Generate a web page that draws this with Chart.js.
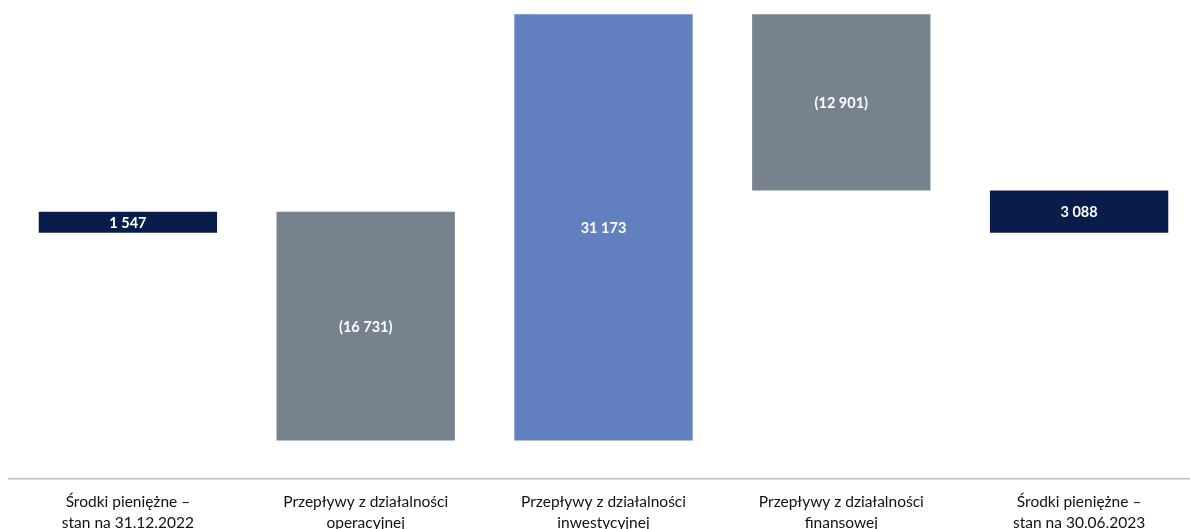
<!DOCTYPE html>
<html>
<head>
<meta charset="utf-8">
<script src="https://cdn.jsdelivr.net/npm/chart.js@4.4.0/dist/chart.umd.min.js"></script>
<style>
html,body{margin:0;padding:0;background:#fff;overflow:hidden;width:1190px;height:529px;}
canvas{display:block;}
</style>
</head>
<body>
<canvas id="c" width="1200" height="529"></canvas>
<script>
const categories = [
  ['Środki pieniężne –', 'stan na 31.12.2022'],
  ['Przepływy z działalności', 'operacyjnej'],
  ['Przepływy z działalności', 'inwestycyjnej'],
  ['Przepływy z działalności', 'finansowej'],
  ['Środki pieniężne –', 'stan na 30.06.2023']
];
const values = [1547, -16731, 31173, -12901, 3088];
const isTotal = [true, false, false, false, true];
const barColors = ['#081d4a', '#76838f', '#6280c0', '#76838f', '#081d4a'];
const axisMin = -18000;
const axisMax = 16000;

// floating ranges built from the values
const ranges = [];
let running = 0;
values.forEach((v, i) => {
  if (isTotal[i]) { ranges.push([0, v]); running = v; }
  else { ranges.push([running, running + v]); running += v; }
});

function fmt(v) {
  const s = Math.abs(v).toString().replace(/\B(?=(\d{3})+(?!\d))/g, ' ');
  return v < 0 ? '(' + s + ')' : s;
}

const labelPlugin = {
  id: 'barLabels',
  afterDatasetsDraw(chart) {
    const ctx = chart.ctx;
    const meta = chart.getDatasetMeta(0);
    ctx.save();
    ctx.fillStyle = '#ffffff';
    ctx.font = 'bold 14.5px Lato';
    ctx.textAlign = 'center';
    ctx.textBaseline = 'middle';
    meta.data.forEach((bar, i) => {
      const p = bar.getProps(['x', 'y', 'base'], true);
      ctx.fillText(fmt(values[i]), p.x, (p.y + p.base) / 2 + 1);
    });
    ctx.restore();
  }
};

new Chart(document.getElementById('c'), {
  type: 'bar',
  data: {
    labels: categories,
    datasets: [{
      data: ranges,
      backgroundColor: barColors,
      borderWidth: 0,
      barPercentage: 0.75,
      categoryPercentage: 1.0
    }]
  },
  options: {
    responsive: false,
    animation: false,
    devicePixelRatio: 1,
    layout: { padding: { left: 9, right: 2, top: 14, bottom: 0 } },
    plugins: { legend: { display: false }, tooltip: { enabled: false } },
    scales: {
      x: {
        grid: { display: false, drawTicks: false },
        border: { display: true, color: '#c0c0c0', width: 1.5 },
        ticks: {
          color: '#111111',
          font: { family: 'Lato', size: 15.5, lineHeight: 1.38 },
          padding: 12,
          maxRotation: 0,
          autoSkip: false
        },
        afterFit(scale) { scale.height = 50; }
      },
      y: {
        display: false,
        min: axisMin,
        max: axisMax
      }
    }
  },
  plugins: [labelPlugin]
});
</script>
</body>
</html>
